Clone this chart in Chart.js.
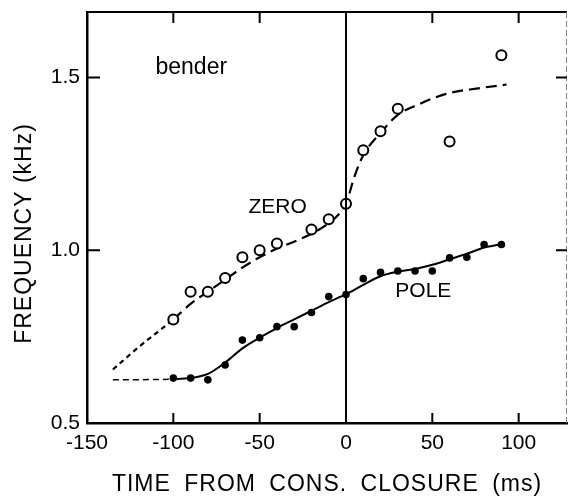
<!DOCTYPE html>
<html lang="en">
<head>
<meta charset="UTF-8">
<title>bender - zero / pole frequency</title>
<script src="https://cdn.jsdelivr.net/npm/chart.js"></script>
<style>
    html, body { margin: 0; padding: 0; background: #fff; }
    .grafico { width: 568px; height: 500px; }
</style>
</head>
<body>
<div class="grafico"><canvas id="graficoBender"></canvas></div>

<script>
    // measured points: time from closure (ms) / frequency (kHz)
    const zeroTempo = [-100, -90, -80, -70, -60, -50, -40, -20, -10, 0, 10, 20, 30, 60, 90]
    const zeroFreq = [0.80, 0.88, 0.88, 0.92, 0.98, 1.00, 1.02, 1.06, 1.09, 1.135, 1.29, 1.345, 1.41, 1.315, 1.565]
    const poleTempo = [-100, -90, -80, -70, -60, -50, -40, -30, -20, -10, 0, 10, 20, 30, 40, 50, 60, 70, 80, 90]
    const poleFreq = [0.63, 0.63, 0.625, 0.668, 0.74, 0.747, 0.779, 0.779, 0.82, 0.866, 0.872, 0.918, 0.936, 0.94, 0.94, 0.94, 0.978, 0.98, 1.017, 1.017]

    // fitted curves
    const zeroCurvaTempo = [-135, -120, -100, -90, -80, -70, -60, -50, -40, -30, -20, -10, -5, 0, 5, 10, 20, 30, 40, 58, 78, 93]
    const zeroCurvaFreq = [0.655, 0.72, 0.80, 0.845, 0.88, 0.915, 0.95, 0.98, 1.005, 1.025, 1.048, 1.078, 1.10, 1.135, 1.215, 1.275, 1.34, 1.392, 1.418, 1.453, 1.47, 1.48]
    const poleCurvaTempo = [-135, -100, -90, -80, -70, -60, -50, -40, -30, -20, -10, 0, 10, 20, 30, 40, 50, 60, 70, 80, 90]
    const poleCurvaFreq = [0.625, 0.627, 0.63, 0.642, 0.675, 0.716, 0.747, 0.775, 0.80, 0.825, 0.85, 0.873, 0.90, 0.925, 0.938, 0.946, 0.958, 0.974, 0.99, 1.008, 1.018]

    const ticksX = [-150, -100, -50, 0, 50, 100]
    const ticksY = [0.5, 1.0, 1.5]

    const fonte = "'Liberation Sans', Arial, sans-serif"

    function pares(xs, ys) {
        return xs.map(function (x, i) { return { x: x, y: ys[i] } })
    }

    // box, inner ticks, zero line, labels and axis titles
    const moldura = {
        id: 'moldura',
        afterDraw: function (chart) {
            const ctx = chart.ctx
            const a = chart.chartArea
            const sx = chart.scales.x
            const sy = chart.scales.y

            ctx.save()
            ctx.strokeStyle = '#000'
            ctx.lineWidth = 2
            ctx.beginPath()
            ctx.moveTo(a.left, a.top)
            ctx.lineTo(a.right, a.top)
            ctx.stroke()

            ctx.strokeStyle = '#888'
            ctx.lineWidth = 1
            ctx.setLineDash([6, 3])
            ctx.beginPath()
            ctx.moveTo(a.right - 0.5, a.top)
            ctx.lineTo(a.right - 0.5, a.bottom)
            ctx.stroke()
            ctx.setLineDash([])

            ctx.strokeStyle = '#000'
            ctx.lineWidth = 2
            ctx.beginPath()
            ticksX.forEach(function (v) {
                if (v === ticksX[0] || v === 0) return
                const px = sx.getPixelForValue(v)
                ctx.moveTo(px, a.bottom)
                ctx.lineTo(px, a.bottom - 10)
                ctx.moveTo(px, a.top)
                ctx.lineTo(px, a.top + 11)
            })
            ticksY.forEach(function (v) {
                if (v === ticksY[0]) return
                const py = sy.getPixelForValue(v)
                ctx.moveTo(a.left, py)
                ctx.lineTo(a.left + 13, py)
                ctx.moveTo(a.right, py)
                ctx.lineTo(a.right - 11, py)
            })
            ctx.stroke()

            // closure instant
            const x0 = sx.getPixelForValue(0)
            ctx.lineWidth = 2
            ctx.beginPath()
            ctx.moveTo(x0, a.top)
            ctx.lineTo(x0, a.bottom)
            ctx.stroke()

            ctx.fillStyle = '#000'
            ctx.textAlign = 'center'
            ctx.textBaseline = 'middle'
            ctx.font = '23px ' + fonte
            ctx.fillText('bender', sx.getPixelForValue(-89.6), sy.getPixelForValue(1.529))
            ctx.font = '21px ' + fonte
            ctx.fillText('ZERO', sx.getPixelForValue(-39.6), sy.getPixelForValue(1.125))
            ctx.fillText('POLE', sx.getPixelForValue(44.8), sy.getPixelForValue(0.881))

            ctx.font = '23px ' + fonte
            ctx.letterSpacing = '1px'
            ctx.wordSpacing = '6px'
            ctx.fillText('TIME FROM CONS. CLOSURE (ms)', (a.left + a.right) / 2, chart.height - 15)
            ctx.wordSpacing = '0px'
            ctx.translate(25, (a.top + a.bottom) / 2 + 16)
            ctx.rotate(-Math.PI / 2)
            ctx.fillText('FREQUENCY (kHz)', 0, 0)
            ctx.restore()
        }
    }

    const grafico = document.getElementById('graficoBender')

    new Chart(grafico, {
        type: 'scatter',
        data: {
            datasets: [
                {
                    label: 'ZERO',
                    data: pares(zeroTempo, zeroFreq),
                    pointStyle: 'circle',
                    pointRadius: 5,
                    pointBorderWidth: 2,
                    pointBackgroundColor: '#fff',
                    pointBorderColor: '#000',
                    order: 0
                },
                {
                    label: 'POLE',
                    data: pares(poleTempo, poleFreq),
                    pointRadius: 3.8,
                    pointBorderWidth: 0,
                    pointBackgroundColor: '#000',
                    order: 0
                },
                {
                    type: 'line',
                    label: 'ZERO fit',
                    data: pares(zeroCurvaTempo, zeroCurvaFreq),
                    borderColor: '#000',
                    borderWidth: 2.2,
                    pointRadius: 0,
                    fill: false,
                    cubicInterpolationMode: 'monotone',
                    segment: {
                        borderDash: function (c) { return c.p0.parsed.x < -100 ? [5, 4] : [11, 6] }
                    },
                    order: 1
                },
                {
                    type: 'line',
                    label: 'POLE fit',
                    data: pares(poleCurvaTempo, poleCurvaFreq),
                    borderColor: '#000',
                    borderWidth: 2,
                    pointRadius: 0,
                    fill: false,
                    cubicInterpolationMode: 'monotone',
                    segment: {
                        borderDash: function (c) { return c.p0.parsed.x < -100 ? [6, 4] : undefined },
                        borderWidth: function (c) { return c.p0.parsed.x < -100 ? 1.5 : undefined }
                    },
                    order: 1
                }
            ]
        },
        options: {
            responsive: true,
            maintainAspectRatio: false,
            animation: false,
            layout: { autoPadding: false, padding: { top: 12, right: 1, left: 0, bottom: 0 } },
            plugins: {
                legend: { display: false },
                tooltip: { enabled: false }
            },
            scales: {
                x: {
                    type: 'linear',
                    min: -150,
                    max: 128,
                    afterBuildTicks: function (s) { s.ticks = ticksX.map(function (v) { return { value: v } }) },
                    afterFit: function (s) {
                        s.height = 77
                        s.paddingLeft = 0
                        s.paddingRight = 0
                    },
                    grid: { display: false, drawTicks: false },
                    border: { display: true, color: '#000', width: 2.5 },
                    ticks: {
                        color: '#000',
                        padding: 8,
                        maxRotation: 0,
                        font: { family: fonte, size: 21 },
                        callback: function (v) { return String(v) }
                    }
                },
                y: {
                    type: 'linear',
                    min: 0.5,
                    max: 1.69,
                    afterBuildTicks: function (s) { s.ticks = ticksY.map(function (v) { return { value: v } }) },
                    afterFit: function (s) {
                        s.width = 87
                        s.paddingTop = 0
                        s.paddingBottom = 0
                    },
                    grid: { display: false, drawTicks: false },
                    border: { display: true, color: '#000', width: 2.5 },
                    ticks: {
                        color: '#000',
                        padding: 7,
                        font: { family: fonte, size: 21 },
                        callback: function (v) { return v.toFixed(1) }
                    }
                }
            }
        },
        plugins: [moldura]
    })
</script>
</body>
</html>
